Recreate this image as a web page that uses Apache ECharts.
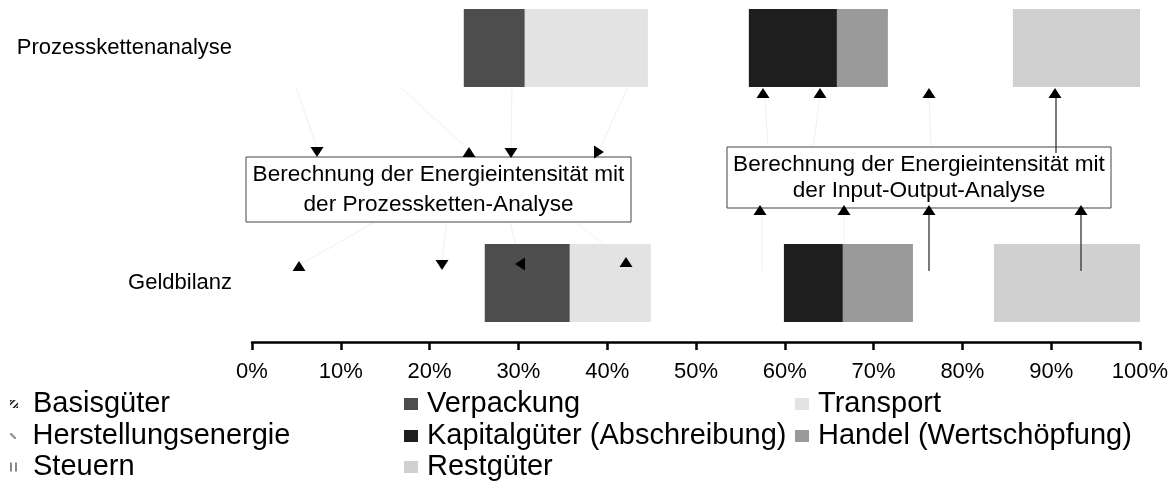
<!DOCTYPE html>
<html>
<head>
<meta charset="utf-8">
<script src="https://cdn.jsdelivr.net/npm/echarts@6/dist/echarts.min.js"></script>
<style>
html,body{margin:0;padding:0;background:#fff;}
#c{width:1173px;height:489px;}
</style>
</head>
<body>
<div id="c"></div>
<script>
// ---- data ----
const categories = ['Prozesskettenanalyse', 'Geldbilanz'];
const basisgueter         = [23.85, 26.21];
const verpackung          = [6.87, 9.58];
const transport           = [13.86, 9.12];
const herstellungsenergie = [11.37, 14.99];
const kapitalgueter       = [9.92, 6.64];
const handel              = [5.74, 7.89];
const steuern             = [14.08, 9.13];
const restgueter          = [14.31, 16.44];
const xTickValues = [0, 10, 20, 30, 40, 50, 60, 70, 80, 90, 100];
const boxTexts = [
  'Berechnung der Energieintensität mit\nder Prozessketten-Analyse',
  'Berechnung der Energieintensität mit\nder Input-Output-Analyse'
];

const FONT = '"Liberation Sans", Arial, sans-serif';
const TRANSP = 'rgba(255,255,255,0)';

const seriesDefs = [
  {name: 'Basisgüter', data: basisgueter, color: TRANSP},
  {name: 'Verpackung', data: verpackung, color: '#4d4d4d'},
  {name: 'Transport', data: transport, color: '#e3e3e3'},
  {name: 'Herstellungsenergie', data: herstellungsenergie, color: TRANSP},
  {name: 'Kapitalgüter (Abschreibung)', data: kapitalgueter, color: '#1e1e1e'},
  {name: 'Handel (Wertschöpfung)', data: handel, color: '#9a9a9a'},
  {name: 'Steuern', data: steuern, color: TRANSP},
  {name: 'Restgüter', data: restgueter, color: '#d0d0d0'}
];

const chart = echarts.init(document.getElementById('c'), null, {renderer: 'canvas'});

// legend layout (3 columns x 3 rows)
const legendLayout = [
  {name: 'Basisgüter', left: 10, top: 404, icon: 'path://M0,3L3,0L5,0L0,5Z M2,7L7,2L7,4L4,7Z M0,0L2,0L0,2Z M5,7L7,5L7,7Z', iconColor: '#222', w: 8, h: 9, pad: 10},
  {name: 'Herstellungsenergie', left: 10, top: 436, icon: 'path://M0,0L2,0L7,5L7,7L5,7L0,2Z', iconColor: '#999', w: 7, h: 6, pad: 11},
  {name: 'Steuern', left: 10, top: 467, icon: 'path://M0,0H2V9H0Z M5,0H7V9H5Z', iconColor: '#888', w: 7, h: 9, pad: 11},
  {name: 'Verpackung', left: 404, top: 404, pad: 4},
  {name: 'Kapitalgüter (Abschreibung)', left: 404, top: 436, pad: 4},
  {name: 'Restgüter', left: 404, top: 467, pad: 4},
  {name: 'Transport', left: 795, top: 404, pad: 4},
  {name: 'Handel (Wertschöpfung)', left: 795, top: 436, pad: 4}
];

const legends = legendLayout.map(l => ({
  show: true,
  left: l.left,
  top: l.top - 15,
  padding: 0,
  itemWidth: l.w || 14,
  itemHeight: l.h || 12,
  selectedMode: false,
  data: [{
    name: l.name,
    icon: l.icon || 'rect',
    itemStyle: l.icon ? {color: l.iconColor} : undefined
  }],
  textStyle: {fontFamily: FONT, fontSize: 29, color: '#000', lineHeight: 30, padding: [0, 0, 0, l.pad]}
}));

chart.setOption({
  animation: false,
  backgroundColor: '#fff',
  legend: legends,
  grid: {left: 252, right: 33, top: 48, bottom: 206, containLabel: false},
  xAxis: {
    type: 'value', min: 0, max: 100, interval: 10,
    offset: 59,
    axisLine: {show: true, lineStyle: {color: '#000', width: 2.5}},
    axisTick: {show: true, length: 8, lineStyle: {color: '#000', width: 2.5}},
    splitLine: {show: false},
    axisLabel: {
      fontFamily: FONT, fontSize: 22, color: '#000', margin: 19,
      formatter: v => xTickValues.indexOf(v) >= 0 ? v + '%' : ''
    }
  },
  yAxis: {
    type: 'category', data: categories, inverse: true, boundaryGap: false,
    axisLine: {show: false}, axisTick: {show: false}, splitLine: {show: false},
    axisLabel: {fontFamily: FONT, fontSize: 22, color: '#000', margin: 20}
  },
  series: seriesDefs.map(s => ({
    name: s.name, type: 'bar', stack: 'total', barWidth: 78, clip: false,
    data: s.data, itemStyle: {color: s.color}, silent: true,
    emphasis: {disabled: true}
  }))
});

// ---- annotations (boxes, guide lines, arrowheads) ----
const faintLines = [
  [296, 87, 317, 148], [400, 87, 468, 149], [512, 87, 511, 149], [632, 78, 600, 148],
  [375, 222, 303, 263], [447, 222, 442, 260], [510, 222, 519, 258], [575, 222, 622, 258],
  [765, 97, 768, 147], [820, 97, 813, 147], [929, 97, 931, 147],
  [762, 215, 762, 270], [844, 215, 844, 245]
];
const solidLines = [
  [1056, 97, 1056, 153], [929, 215, 929, 271], [1081, 215, 1081, 271]
];
const arrows = [
  [317, 152, 'down'], [469, 152, 'up'], [511, 153, 'down'], [599, 152, 'right'],
  [299, 266, 'up'], [442, 265, 'down'], [520, 264, 'left'], [626, 262, 'up'],
  [763, 93, 'up'], [820, 93, 'up'], [929, 93, 'up'], [1055, 93, 'up'],
  [760, 210, 'up'], [844, 210, 'up'], [929, 210, 'up'], [1081, 210, 'up']
];
const boxes = [
  {x: 246, y: 157, w: 385, h: 65, lh: 30},
  {x: 727, y: 147, w: 384, h: 61, lh: 26}
];

function tri(cx, cy, dir) {
  const hw = 6.5, hh = 5;
  if (dir === 'up') return [[cx, cy - hh], [cx + hw, cy + hh], [cx - hw, cy + hh]];
  if (dir === 'down') return [[cx, cy + hh], [cx + hw, cy - hh], [cx - hw, cy - hh]];
  if (dir === 'left') return [[cx - hh, cy], [cx + hh, cy - hw], [cx + hh, cy + hw]];
  return [[cx + hh, cy], [cx - hh, cy - hw], [cx - hh, cy + hw]];
}

const g = [];
faintLines.forEach(l => g.push({type: 'line', silent: true, z: 1,
  shape: {x1: l[0], y1: l[1], x2: l[2], y2: l[3]}, style: {stroke: '#f0f0f0', lineWidth: 1}}));
solidLines.forEach(l => g.push({type: 'line', silent: true, z: 3,
  shape: {x1: l[0], y1: l[1], x2: l[2], y2: l[3]}, style: {stroke: '#333', lineWidth: 1.3}}));
boxes.forEach((b, i) => {
  g.push({type: 'rect', silent: true, z: 2, shape: {x: b.x, y: b.y, width: b.w, height: b.h},
    style: {fill: 'none', stroke: '#444', lineWidth: 1}});
  g.push({type: 'text', silent: true, z: 4, x: b.x + b.w / 2, y: b.y + b.h / 2,
    style: {text: boxTexts[i], fill: '#000', align: 'center', verticalAlign: 'middle',
      font: '22.6px ' + FONT, lineHeight: b.lh}});
});
arrows.forEach(a => g.push({type: 'polygon', silent: true, z: 5,
  shape: {points: tri(a[0], a[1], a[2])}, style: {fill: '#000'}}));

chart.setOption({graphic: {elements: g}});
</script>
</body>
</html>
